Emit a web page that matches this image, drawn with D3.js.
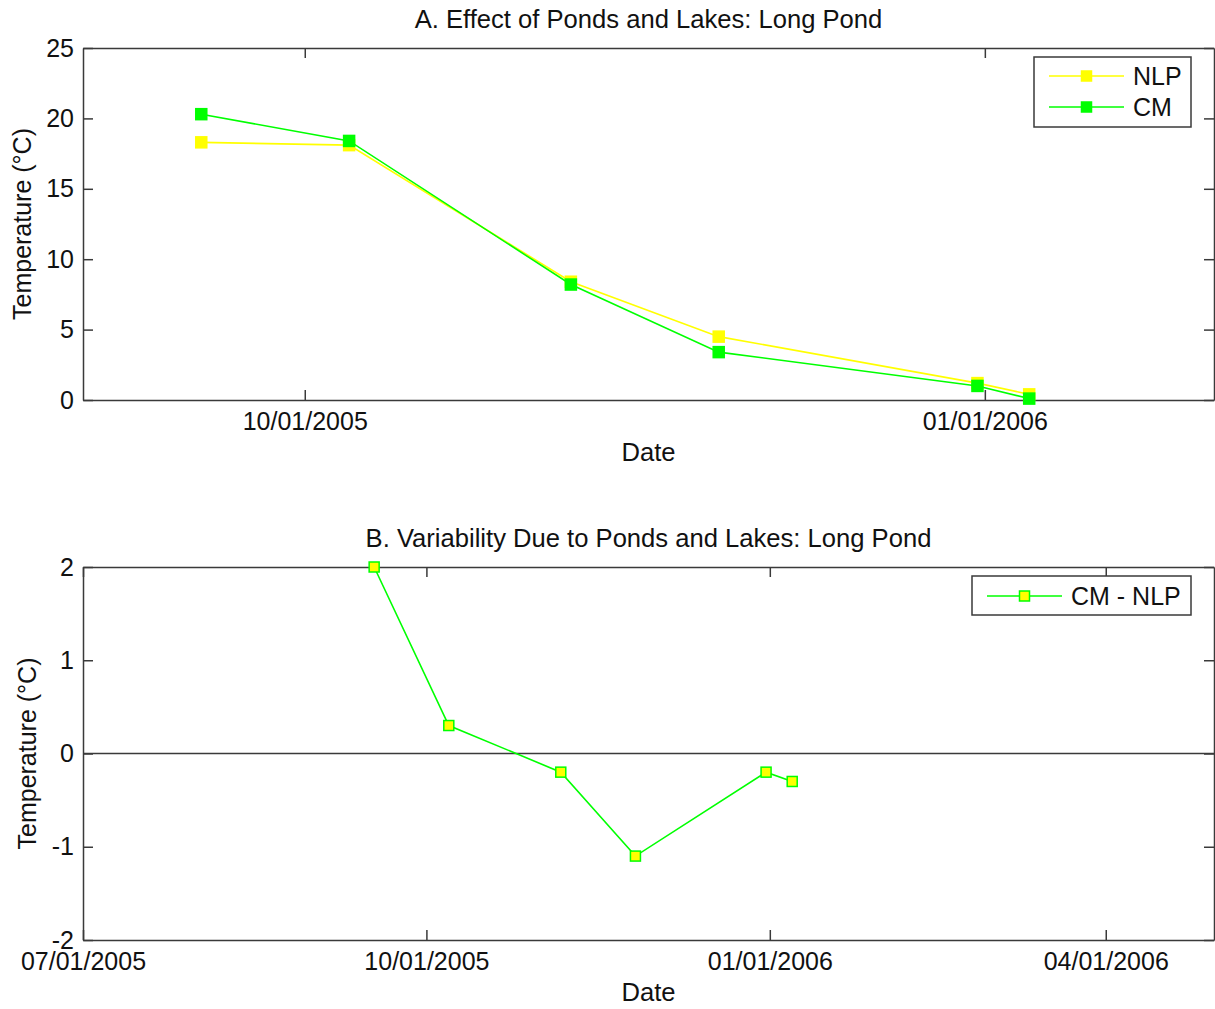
<!DOCTYPE html>
<html>
<head>
<meta charset="utf-8">
<script src="https://cdn.jsdelivr.net/npm/d3@7"></script>
<style>
  body { margin: 0; background: #fff; }
  svg text { font-family: "Liberation Sans", Arial, sans-serif; fill: #111; }
</style>
</head>
<body>
<div id="chart"></div>
<script>
// sample dates (shared by both panels)
const dates = ['2005-09-17', '2005-10-07', '2005-11-06', '2005-11-26', '2005-12-31', '2006-01-07']
// panel A temperatures (°C)
const nlpValues = [18.3, 18.1, 8.4, 4.5, 1.2, 0.4]
const cmValues = [20.3, 18.4, 8.2, 3.4, 1.0, 0.1]
// panel B difference CM - NLP (°C)
const diffValues = [2.0, 0.3, -0.2, -1.1, -0.2, -0.3]

const topXTicks = ['2005-10-01', '2006-01-01']
const botXTicks = ['2005-07-01', '2005-10-01', '2006-01-01', '2006-04-01']
const topYTicks = [0, 5, 10, 15, 20, 25]
const botYTicks = [-2, -1, 0, 1, 2]

const parse = d3.timeParse('%Y-%m-%d')
const fmt = d3.timeFormat('%m/%d/%Y')

const W = 1215, H = 1009
const svg = d3.select('#chart').append('svg')
    .attr('width', W).attr('height', H)

const YELLOW = '#ffff00', GREEN = '#00ff00', AXIS = '#3a3a3a'
const FS = 25

function makePanel(opts) {
    const x = d3.scaleTime().domain(opts.xDomain.map(parse)).range([opts.left, opts.right])
    const y = d3.scaleLinear().domain(opts.yDomain).range([opts.bottom, opts.top])
    const g = svg.append('g')

    // four sided box with inward ticks, MATLAB style
    const bottomAxis = d3.axisBottom(x).tickValues(opts.xTicks.map(parse)).tickFormat(fmt)
        .tickSizeInner(-10).tickSizeOuter(0).tickPadding(12)
    const topAxis = d3.axisTop(x).tickValues(opts.xTicks.map(parse)).tickFormat('')
        .tickSizeInner(-10).tickSizeOuter(0)
    // plain hyphen for negatives, like the original
    const leftAxis = d3.axisLeft(y).tickValues(opts.yTicks).tickFormat(d => String(d))
        .tickSizeInner(-10).tickSizeOuter(0).tickPadding(9)
    const rightAxis = d3.axisRight(y).tickValues(opts.yTicks).tickFormat('')
        .tickSizeInner(-10).tickSizeOuter(0)

    g.append('g').attr('transform', `translate(0,${opts.bottom})`).call(bottomAxis)
    g.append('g').attr('transform', `translate(0,${opts.top})`).call(topAxis)
    g.append('g').attr('transform', `translate(${opts.left},0)`).call(leftAxis)
    g.append('g').attr('transform', `translate(${opts.right},0)`).call(rightAxis)

    g.selectAll('.domain, .tick line').attr('stroke', AXIS).attr('stroke-width', 1.5)
    g.selectAll('.tick text').attr('font-size', FS).attr('fill', '#111')
        .style('font-family', '"Liberation Sans", Arial, sans-serif')

    // title and axis labels
    const cx = (opts.left + opts.right) / 2
    g.append('text').attr('x', cx).attr('y', opts.titleY)
        .attr('text-anchor', 'middle').attr('font-size', 25.6).text(opts.title)
    g.append('text').attr('x', cx).attr('y', opts.bottom + 61)
        .attr('text-anchor', 'middle').attr('font-size', 25.6).text('Date')
    g.append('text')
        .attr('transform', `translate(${opts.yLabelX},${(opts.top + opts.bottom) / 2}) rotate(-90)`)
        .attr('text-anchor', 'middle').attr('font-size', FS).text('Temperature (°C)')

    return {g, x, y}
}

function drawSeries(panel, values, lineColor, fillColor, size) {
    const pts = dates.map((d, i) => ({date: parse(d), v: values[i]}))
    const line = d3.line().x(d => panel.x(d.date)).y(d => panel.y(d.v))
    panel.g.append('path').datum(pts)
        .attr('d', line).attr('fill', 'none')
        .attr('stroke', lineColor).attr('stroke-width', 1.6)
    panel.g.append('g').selectAll('rect').data(pts).enter().append('rect')
        .attr('x', d => panel.x(d.date) - size / 2)
        .attr('y', d => panel.y(d.v) - size / 2)
        .attr('width', size).attr('height', size)
        .attr('fill', fillColor).attr('stroke', lineColor).attr('stroke-width', 1.5)
}

function drawLegend(panel, box, items) {
    const lg = panel.g.append('g')
    lg.append('rect').attr('x', box.x).attr('y', box.y)
        .attr('width', box.w).attr('height', box.h)
        .attr('fill', '#fff').attr('stroke', AXIS).attr('stroke-width', 1.5)
    items.forEach((it, i) => {
        const yy = box.y + box.first + i * box.step
        lg.append('line').attr('x1', box.x + 15).attr('x2', box.x + 90)
            .attr('y1', yy).attr('y2', yy)
            .attr('stroke', it.line).attr('stroke-width', 1.6)
        lg.append('rect').attr('x', box.x + 52.5 - it.size / 2).attr('y', yy - it.size / 2)
            .attr('width', it.size).attr('height', it.size)
            .attr('fill', it.fill).attr('stroke', it.line).attr('stroke-width', 1.5)
        lg.append('text').attr('x', box.x + 99).attr('y', yy).attr('dy', '0.36em')
            .attr('font-size', FS).text(it.label)
    })
}

// Panel A
const panelA = makePanel({
    left: 83, right: 1214, top: 48, bottom: 400,
    xDomain: ['2005-09-01', '2006-02-01'], yDomain: [0, 25],
    xTicks: topXTicks, yTicks: topYTicks,
    title: 'A. Effect of Ponds and Lakes: Long Pond', titleY: 28, yLabelX: 31
})
drawSeries(panelA, nlpValues, YELLOW, YELLOW, 11)
drawSeries(panelA, cmValues, GREEN, GREEN, 11)
drawLegend(panelA, {x: 1034, y: 57, w: 157, h: 70, first: 19, step: 31}, [
    {label: 'NLP', line: YELLOW, fill: YELLOW, size: 10},
    {label: 'CM', line: GREEN, fill: GREEN, size: 10}
])

// Panel B
const panelB = makePanel({
    left: 83, right: 1214, top: 567, bottom: 940,
    xDomain: ['2005-07-01', '2006-04-30'], yDomain: [-2, 2],
    xTicks: botXTicks, yTicks: botYTicks,
    title: 'B. Variability Due to Ponds and Lakes: Long Pond', titleY: 547, yLabelX: 36
})
// zero reference line
panelB.g.append('line')
    .attr('x1', panelB.x.range()[0]).attr('x2', panelB.x.range()[1])
    .attr('y1', panelB.y(0)).attr('y2', panelB.y(0))
    .attr('stroke', AXIS).attr('stroke-width', 1.5)
drawSeries(panelB, diffValues, GREEN, YELLOW, 10)
drawLegend(panelB, {x: 972, y: 576, w: 219, h: 39, first: 20, step: 0}, [
    {label: 'CM - NLP', line: GREEN, fill: YELLOW, size: 10}
])
</script>
</body>
</html>
